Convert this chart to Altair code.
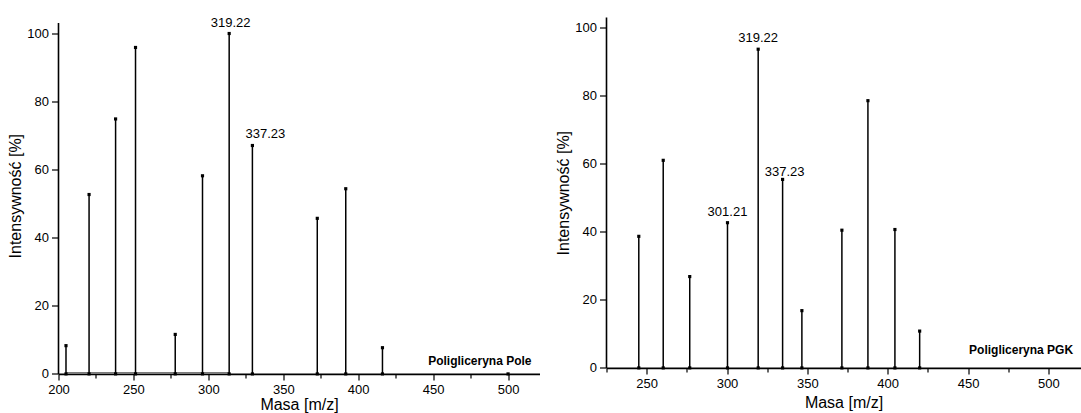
import altair as alt
import pandas as pd

# ---- data ----
left_mass = [205.0, 220.4, 238.1, 251.4, 277.9, 296.1, 313.9, 329.4, 372.7, 391.7, 416.2]
left_int = [8.3, 52.7, 74.9, 95.9, 11.6, 58.2, 100.0, 67.1, 45.7, 54.4, 7.7]
left_zero_mass = [500.0]
left_base_mass = [205.0, 313.9]
left_base_int = [0.4, 0.4]
left_label_text = ["319.22", "337.23"]
left_label_mass = [313.9, 329.4]
left_label_int = [100.0, 67.1]

right_mass = [245.1, 260.3, 276.8, 300.3, 319.4, 334.6, 346.6, 371.5, 387.7, 404.5, 419.9]
right_int = [38.6, 60.9, 26.8, 42.6, 93.5, 55.3, 16.8, 40.4, 78.4, 40.6, 10.8]
right_label_text = ["301.21", "319.22", "337.23"]
right_label_mass = [300.3, 319.4, 334.6]
right_label_int = [42.6, 93.5, 55.3]

y_ticks = list(range(0, 101, 10))
left_x_ticks = list(range(200, 501, 25))
right_x_ticks = list(range(225, 501, 25))

FONT = "Liberation Sans"


def panel(mass, inten, lab_text, lab_mass, lab_int, lab_offsets, xdom, ydom, yaxis_top, xticks,
          width, height, annot, annot_x, annot_y, xtitle_pad, zero_mass=None, base=None):
    df = pd.DataFrame({"m": mass, "i": inten})
    xs = alt.Scale(domain=xdom, nice=False, zero=False)
    ys = alt.Scale(domain=ydom, nice=False, zero=False)
    xax = alt.Axis(
        values=xticks,
        labelExpr="datum.value % 50 === 0 ? datum.label : ''",
        tickSize={"condition": {"test": "datum.value % 50 === 0", "value": 6}, "value": 4},
        grid=False, title="Masa [m/z]", labelPadding=4, titlePadding=xtitle_pad, labelFlush=False,
    )
    yax = alt.Axis(
        values=y_ticks,
        labelExpr="datum.value % 20 === 0 ? datum.label : ''",
        tickSize={"condition": {"test": "datum.value % 20 === 0", "value": 7}, "value": 4},
        grid=False, title="Intensywność [%]", labelPadding=3, titlePadding=3,
        domain=False, labelFlush=False,
    )
    x = alt.X("m:Q", scale=xs, axis=xax)
    y = alt.Y("i:Q", scale=ys, axis=yax)

    # y axis line (drawn up to the axis' own top value)
    ydf = pd.DataFrame({"i": [0.0], "i2": [yaxis_top]})
    yline = alt.Chart(ydf).mark_rule(color="black", strokeWidth=1.6).encode(
        x=alt.value(0), y=alt.Y("i:Q", scale=ys, axis=yax), y2="i2:Q")

    base_chart = alt.Chart(df)
    rules = base_chart.mark_rule(color="black", strokeWidth=1.5).encode(x=x, y=y, y2=alt.datum(0))
    tops = base_chart.mark_square(size=10, color="black", opacity=1).encode(x=x, y=y)
    bottoms = base_chart.mark_square(size=10, color="black", opacity=1).encode(x=x, y=alt.datum(0))
    layers = []
    if base is not None:
        bdf = pd.DataFrame({"m": base[0], "i": base[1]})
        layers.append(alt.Chart(bdf).mark_line(color="#777777", strokeWidth=1).encode(x=x, y=y))
    layers += [rules, tops, bottoms]
    if zero_mass is not None:
        zdf = pd.DataFrame({"m": zero_mass, "i": [0.0] * len(zero_mass)})
        layers.append(alt.Chart(zdf).mark_square(size=10, color="black", opacity=1).encode(x=x, y=y))
    for t, m, v, (dx, dy) in zip(lab_text, lab_mass, lab_int, lab_offsets):
        ldf = pd.DataFrame({"m": [m], "i": [v], "t": [t]})
        layers.append(
            alt.Chart(ldf).mark_text(font=FONT, fontSize=13, color="black", align="center",
                                     baseline="alphabetic", dx=dx, dy=dy)
            .encode(x=x, y=y, text="t:N")
        )
    adf = pd.DataFrame({"t": [annot]})
    layers.append(
        alt.Chart(adf).mark_text(font=FONT, fontSize=12, fontWeight="bold", color="black",
                                 align="right", baseline="middle")
        .encode(x=alt.value(annot_x), y=alt.value(annot_y), text="t:N")
    )
    layers.append(yline)
    return alt.layer(*layers).properties(width=width, height=height)


left = panel(left_mass, left_int, left_label_text, left_label_mass, left_label_int,
             [(1.5, -6.5), (13, -7.5)], [200, 521], [0, 104.7], 103.1, left_x_ticks,
             481, 356.4, "Poligliceryna Pole", 473, 343.4, 0,
             zero_mass=left_zero_mass, base=(left_base_mass, left_base_int))
right = panel(right_mass, right_int, right_label_text, right_label_mass, right_label_int,
              [(0, -7), (0, -7), (2, -3)], [225, 520], [0, 102.8], 102.8, right_x_ticks,
              474, 350.4, "Poligliceryna PGK", 466.6, 332.7, 4)

chart = alt.hconcat(left, right, spacing=16).properties(
    padding={"left": 7.5, "top": 16.5, "right": 0, "bottom": 0},
    background="white",
).configure_view(stroke=None).configure_axis(
    domainColor="black", domainWidth=1.6, tickColor="black", tickWidth=1.2,
    labelColor="black", titleColor="black", labelFont=FONT, titleFont=FONT,
    labelFontSize=13, titleFontSize=16, titleFontWeight="normal",
)

chart.save("out.html", embed_options={"renderer": "svg", "actions": False})
